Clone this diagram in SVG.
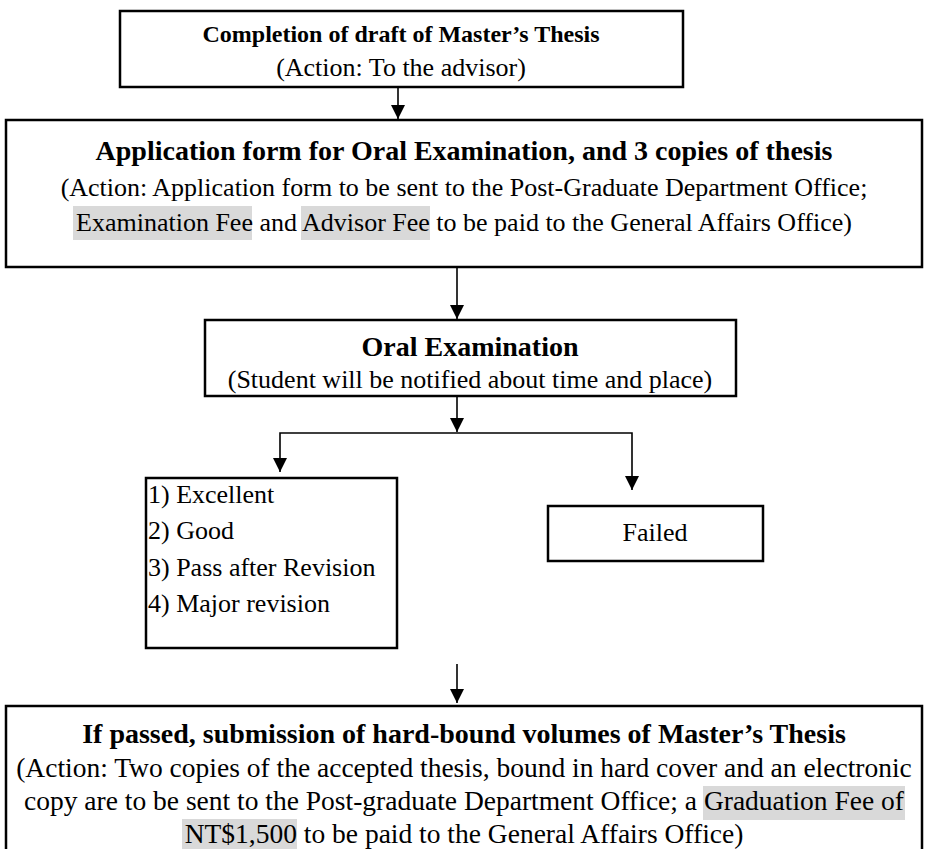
<svg xmlns="http://www.w3.org/2000/svg" width="928" height="849" viewBox="0 0 928 849">
<defs>
<style>
.box{fill:#fff;stroke:#000;stroke-width:2.5}
.t{font-family:"Liberation Serif","Times New Roman",serif;fill:#000;text-anchor:middle}
.b{font-weight:bold;font-size:28px}
.r{font-size:26px}
.rb{font-size:27.5px}
.l{font-family:"Liberation Serif","Times New Roman",serif;fill:#000;font-size:26px}
.hl{fill:#d9d9d9}
.c{stroke:#000;stroke-width:1.6;fill:none}
</style>
<marker id="ah" viewBox="0 0 10 10" refX="10" refY="5" markerWidth="14" markerHeight="14" markerUnits="userSpaceOnUse" orient="auto">
<path d="M0,0 L10,5 L0,10 Z" fill="#000"/>
</marker>
</defs>
<rect width="928" height="849" fill="#fff"/>
<g id="connectors">
<line class="c" x1="398" y1="87" x2="398" y2="119" marker-end="url(#ah)"/>
<line class="c" x1="457" y1="267" x2="457" y2="319" marker-end="url(#ah)"/>
<line class="c" x1="457" y1="396" x2="457" y2="432" marker-end="url(#ah)"/>
<polyline class="c" points="280,450 280,433 632,433 632,470"/>
<line class="c" x1="280" y1="450" x2="280" y2="472" marker-end="url(#ah)"/>
<line class="c" x1="632" y1="470" x2="632" y2="490" marker-end="url(#ah)"/>
<line class="c" x1="457" y1="664" x2="457" y2="703" marker-end="url(#ah)"/>
</g>
<g id="n1">
<rect class="box" x="120" y="11" width="563" height="76"/>
<text class="t" x="401" y="42" font-weight="bold" font-size="24">Completion of draft of Master’s Thesis</text>
<text class="t r" x="401" y="76">(Action: To the advisor)</text>
</g>
<g id="n2">
<rect class="box" x="6" y="120" width="916" height="147"/>
<text class="t b" x="464" y="160">Application form for Oral Examination, and 3 copies of thesis</text>
<text class="t r" x="464" y="196">(Action: Application form to be sent to the Post-Graduate Department Office;</text>
<rect class="hl" x="73" y="206" width="179" height="34"/>
<rect class="hl" x="301" y="206" width="129" height="34"/>
<text class="t r" x="464" y="231">Examination Fee and Advisor Fee to be paid to the General Affairs Office)</text>
</g>
<g id="n3">
<rect class="box" x="205" y="320" width="531" height="76"/>
<text class="t b" x="470" y="356">Oral Examination</text>
<text class="t r" x="470" y="388">(Student will be notified about time and place)</text>
</g>
<g id="n4">
<rect class="box" x="146" y="478" width="251" height="170"/>
<text class="l" x="148" y="503">1) Excellent</text>
<text class="l" x="148" y="539">2) Good</text>
<text class="l" x="148" y="576">3) Pass after Revision</text>
<text class="l" x="148" y="612">4) Major revision</text>
</g>
<g id="n5">
<rect class="box" x="548" y="506" width="215" height="55"/>
<text class="t r" x="655" y="541">Failed</text>
</g>
<g id="n6">
<rect class="box" x="6" y="706" width="916" height="160"/>
<text class="t b" x="464" y="743">If passed, submission of hard-bound volumes of Master’s Thesis</text>
<text class="t rb" x="464" y="777">(Action: Two copies of the accepted thesis, bound in hard cover and an electronic</text>
<rect class="hl" x="703" y="786" width="202" height="34"/>
<text class="t rb" x="464" y="810">copy are to be sent to the Post-graduate Department Office; a Graduation Fee of</text>
<rect class="hl" x="182" y="819" width="115" height="34"/>
<text class="t rb" x="464" y="843">NT$1,500 to be paid to the General Affairs Office)</text>
</g>
</svg>
